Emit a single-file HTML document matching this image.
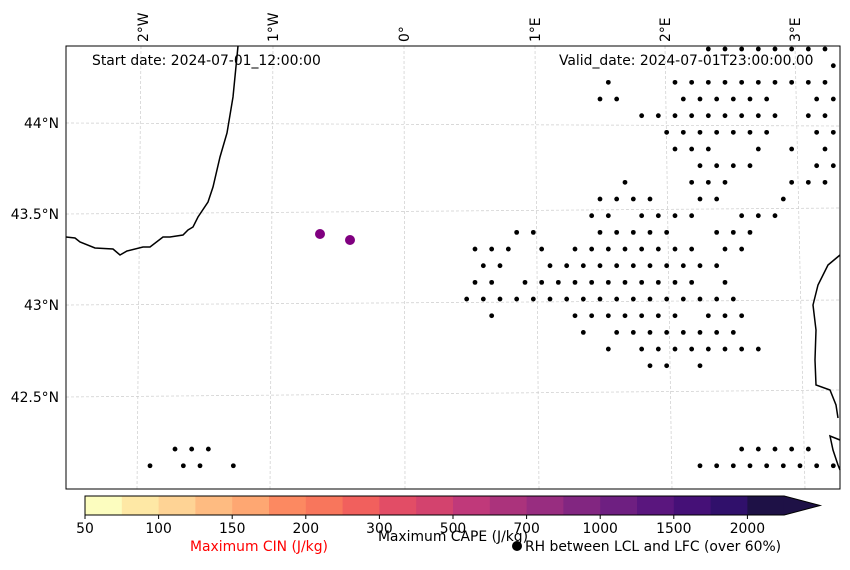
<!DOCTYPE html>
<html><head><meta charset="utf-8"><style>
body{margin:0;background:#fff;font-family:"Liberation Sans","DejaVu Sans",sans-serif}
svg text{font-family:"DejaVu Sans","Liberation Sans",sans-serif;font-size:13.9px}
</style></head><body>
<svg id="c" width="850" height="565" viewBox="0 0 850 565" xmlns="http://www.w3.org/2000/svg">
<rect width="850" height="565" fill="#fff"/>
<g id="grid" stroke="#ccc" stroke-width="0.7" stroke-dasharray="3,2" fill="none">
<line x1="141" y1="46" x2="137" y2="489"/>
<line x1="273" y1="46" x2="270" y2="489"/>
<line x1="404" y1="46" x2="405" y2="489"/>
<line x1="535" y1="46" x2="539" y2="489"/>
<line x1="665" y1="46" x2="672" y2="489"/>
<line x1="795" y1="46" x2="805" y2="489"/>
<line x1="66" y1="123" x2="840" y2="126"/>
<line x1="66" y1="214" x2="840" y2="208"/>
<line x1="66" y1="305" x2="840" y2="300"/>
<line x1="66" y1="397" x2="840" y2="390"/>
</g>
<g id="lonlabels" fill="#000">
<text transform="translate(148,42) rotate(-90)">2°W</text>
<text transform="translate(278,42) rotate(-90)">1°W</text>
<text transform="translate(409,42) rotate(-90)">0°</text>
<text transform="translate(540,42) rotate(-90)">1°E</text>
<text transform="translate(670,42) rotate(-90)">2°E</text>
<text transform="translate(800,42) rotate(-90)">3°E</text>
</g>
<g id="latlabels" text-anchor="end">
<text x="59" y="128">44°N</text>
<text x="59" y="219">43.5°N</text>
<text x="59" y="310">43°N</text>
<text x="59" y="402">42.5°N</text>
</g>
<path fill="none" stroke="#000" stroke-width="1.5" d="M66,237 L75,238 L80,242 L95,248 L113,249 L120,255 L127,251 L143,247 L150,247 L163,237 L170,237 L183,235 L188,230 L193,227 L198,217 L208,202 L213,187 L220,157 L227,133 L233,97 L238,46"/>
<path fill="none" stroke="#000" stroke-width="1.5" d="M840,255 L828,265 L818,285 L813,305 L816,330 L815,360 L816,385 L830,390 L836,405 L838,418 M840,440 L830,436 L833,450 L838,465 L840,470"/>
<g id="dots"></g>
<circle cx="320" cy="234" r="5" fill="#800080"/>
<circle cx="350" cy="240" r="5" fill="#800080"/>
<rect x="66" y="46" width="774" height="443" fill="none" stroke="#000" stroke-width="1"/>
<text x="92" y="65">Start date: 2024-07-01_12:00:00</text>
<text x="559" y="65">Valid_date: 2024-07-01T23:00:00.00</text>
<g id="cbar"></g>
<text x="259" y="551" fill="#f00" text-anchor="middle">Maximum CIN (J/kg)</text>
<text x="453" y="541" text-anchor="middle">Maximum CAPE (J/kg)</text>
<circle cx="517" cy="546" r="5" fill="#000"/>
<text x="525" y="551">RH between LCL and LFC (over 60%)</text>
</svg>
<script>
// dot rows: row index and half-step column indices
const dotRows=[0,1,2,3,4,5,6,7,8,9,10,11,12,13,14,15,16,17,18,19,24,25];
const dotCols=[
[28,30,32,34,36,38,40,42],[43],
[16,24,26,28,30,32,34,36,38,40,42],
[15,17,25,27,29,31,33,35,41,43],
[20,22,24,26,28,30,32,34,36,40,42],
[23,25,27,29,31,33,35,41,43],
[24,26,28,34,38,42],
[27,29,31,33,41,43],
[18,26,28,30,38,40,42],
[15,17,19,21,27,29,37],
[14,16,20,22,24,26,32,34,36],
[5,7,15,17,19,21,23,29,31,33],
[0,2,4,8,12,14,16,18,20,22,24,26,30,32],
[1,3,9,11,13,15,17,19,21,23,25,27,29],
[0,2,6,8,10,12,14,16,18,20,22,24,26,30],
[-1,1,3,5,7,9,11,13,15,17,19,21,23,25,27,29,31],
[2,12,14,16,18,20,22,24,28,30,32],
[13,17,19,21,23,25,27,29,31],
[16,20,22,24,26,28,30,32,34],
[21,23,27],
[-36,-34,-32,32,34,36,38,40],
[-39,-35,-33,-29,27,29,31,33,35,37,39,41,43]];
const cbLabels=["50","100","150","200","300","500","700","1000","1500","2000"];
const cbColors=["#fcfdbf","#fee8a5","#fed395","#febb81","#fea772","#fc8961","#f8765c","#f1605d","#e24d66","#d3436e","#c0397a","#ab337c","#982d80","#822681","#6e1f81","#5a167e","#451077","#30106b","#1e1146"];
const NS="http://www.w3.org/2000/svg";
const gx=c=>475+c*8.333, gy=r=>49+r*16.67;
const dg=document.getElementById('dots');
dotRows.forEach((r,i)=>dotCols[i].forEach(c=>{
 const e=document.createElementNS(NS,'circle');
 
 
 e.setAttribute('cx',gx(c));e.setAttribute('cy',gy(r));e.setAttribute('r',2.4);e.setAttribute('fill','#000');
 dg.appendChild(e);}));
const cb=document.getElementById('cbar');
const cx0=85,cw=36.8,cy=496,ch=19;
cbColors.forEach((col,i)=>{
 const e=document.createElementNS(NS,'rect');
 
 
 e.setAttribute('x',cx0+i*cw);e.setAttribute('y',cy);e.setAttribute('width',cw+0.5);e.setAttribute('height',ch);e.setAttribute('fill',col);
 cb.appendChild(e);});
const xe=cx0+cbColors.length*cw;
const tri=document.createElementNS(NS,'polygon');


tri.setAttribute('points',`${xe-1},${cy} ${xe+36},${cy+ch/2} ${xe-1},${cy+ch}`);tri.setAttribute('fill','#1e1146');
cb.appendChild(tri);
const ol=document.createElementNS(NS,'polygon');


ol.setAttribute('points',`${cx0},${cy} ${xe},${cy} ${xe+36},${cy+ch/2} ${xe},${cy+ch} ${cx0},${cy+ch}`);ol.setAttribute('fill','none');ol.setAttribute('stroke','#000');
cb.appendChild(ol);
cbLabels.forEach((l,i)=>{
 const x=cx0+i*2*cw;
 const t=document.createElementNS(NS,'line');
 
 
 t.setAttribute('x1',x);t.setAttribute('x2',x);t.setAttribute('y1',cy+ch);t.setAttribute('y2',cy+ch+4);t.setAttribute('stroke','#000');
 cb.appendChild(t);
 const e=document.createElementNS(NS,'text');
 
 
 e.setAttribute('x',x);e.setAttribute('y',533);e.setAttribute('text-anchor','middle');e.textContent=l;
 cb.appendChild(e);});
</script>
</body></html>
